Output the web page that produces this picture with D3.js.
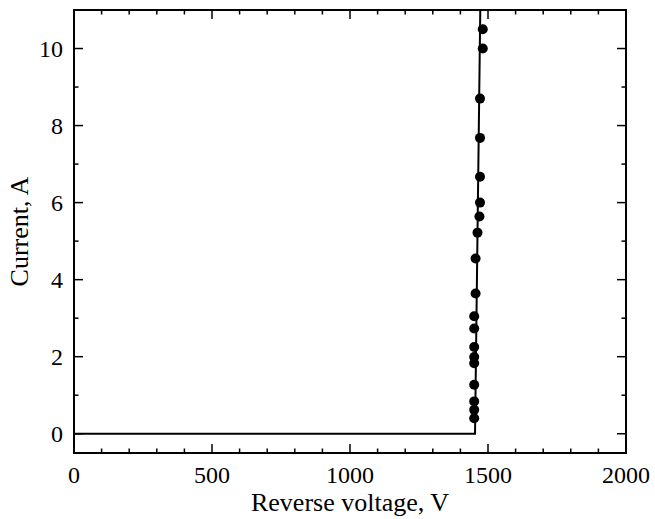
<!DOCTYPE html>
<html><head><meta charset="utf-8">
<script src="https://cdn.jsdelivr.net/npm/d3@7"></script>
<style>body{margin:0;background:#fff}svg{display:block}text{font-family:"Liberation Serif","Times New Roman",serif;fill:#000}</style>
</head><body>
<svg id="c" width="655" height="519"></svg>
<script>
const voltage = [1481,1481,1471,1471,1471,1471,1469,1462,1455,1455,1450,1450,1450,1450,1450,1450,1450,1450,1450];
const current = [10.5,10.0,8.7,7.68,6.67,6.0,5.64,5.22,4.55,3.64,3.05,2.73,2.25,1.99,1.83,1.27,0.84,0.62,0.40];
const fitV = [0,1453,1472];
const fitI = [0,0,11];
const xMajor = [0,500,1000,1500,2000];
const yMajor = [0,2,4,6,8,10];
const xMinor = d3.range(0,2001,100);
const yMinor = d3.range(0,11,1);

const svg = d3.select("#c");
const m = {l:74,r:29,t:10,b:66};
const W = 655, H = 519;
const x = d3.scaleLinear().domain([0,2000]).range([m.l, W-m.r]);
const y = d3.scaleLinear().domain([-0.5,11]).range([H-m.b, m.t]);

const g = svg.append("g");
function ticksX(vals, len){
  vals.forEach(v=>{
    g.append("line").attr("x1",x(v)).attr("x2",x(v)).attr("y1",y.range()[0]).attr("y2",y.range()[0]-len).attr("stroke","#000").attr("stroke-width",1.5);
    g.append("line").attr("x1",x(v)).attr("x2",x(v)).attr("y1",y.range()[1]).attr("y2",y.range()[1]+len).attr("stroke","#000").attr("stroke-width",1.5);
  });
}
function ticksY(vals, len){
  vals.forEach(v=>{
    g.append("line").attr("y1",y(v)).attr("y2",y(v)).attr("x1",x.range()[0]).attr("x2",x.range()[0]+len).attr("stroke","#000").attr("stroke-width",1.5);
    g.append("line").attr("y1",y(v)).attr("y2",y(v)).attr("x1",x.range()[1]).attr("x2",x.range()[1]-len).attr("stroke","#000").attr("stroke-width",1.5);
  });
}
ticksX(xMinor.filter(v=>v%500!==0),4.5);
ticksX(xMajor,9);
ticksY(yMinor.filter(v=>v%2!==0),4.5);
ticksY(yMajor,9);

g.selectAll(".xl").data(xMajor).enter().append("text")
  .attr("x",d=>x(d)).attr("y",483).attr("text-anchor","middle").attr("font-size",24).text(d=>d);
g.selectAll(".yl").data(yMajor).enter().append("text")
  .attr("x",m.l-11).attr("y",d=>y(d)+8).attr("text-anchor","end").attr("font-size",24).text(d=>d);

svg.append("rect").attr("x",m.l).attr("y",m.t).attr("width",W-m.l-m.r).attr("height",H-m.t-m.b)
  .attr("fill","none").attr("stroke","#000").attr("stroke-width",2);

const line = d3.line().x((d,i)=>x(fitV[i])).y((d,i)=>y(fitI[i]));
svg.append("path").datum(fitV).attr("d",line).attr("fill","none").attr("stroke","#000").attr("stroke-width",2);

svg.selectAll(".pt").data(voltage).enter().append("circle")
  .attr("cx",d=>x(d)).attr("cy",(d,i)=>y(current[i])).attr("r",5).attr("fill","#000");

svg.append("text").attr("x",(m.l+W-m.r)/2).attr("y",511).attr("text-anchor","middle").attr("font-size",26).text("Reverse voltage, V");
svg.append("text").attr("transform","translate(28,"+((y.range()[0]+y.range()[1])/2)+") rotate(-90)").attr("text-anchor","middle").attr("font-size",26).text("Current, A");
</script>
</body></html>
